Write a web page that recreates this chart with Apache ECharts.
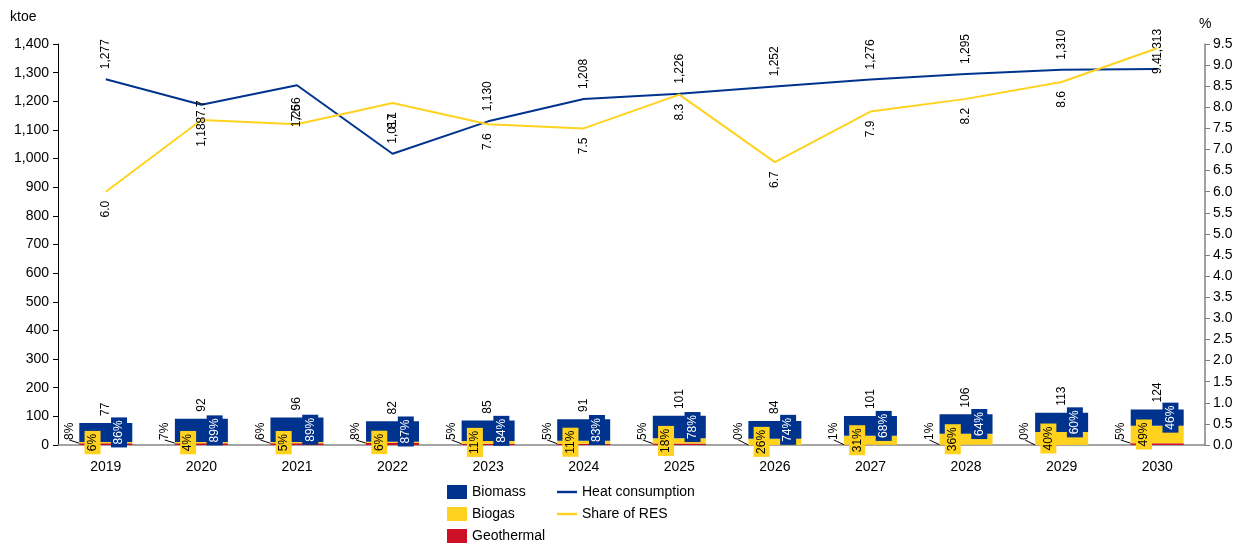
<!DOCTYPE html>
<html>
<head>
<meta charset="utf-8">
<script src="https://cdn.jsdelivr.net/npm/echarts@6/dist/echarts.min.js"></script>
<style>
  html, body { margin: 0; padding: 0; background: #fff; }
  #chart { width: 1244px; height: 545px; }
</style>
</head>
<body>
<div id="chart"></div>
<script>
const categories = ['2019', '2020', '2021', '2022', '2023', '2024', '2025', '2026', '2027', '2028', '2029', '2030']

// ktoe
const geothermal = [6.2, 6.4, 5.8, 6.6, 4.3, 4.6, 5.1, 0, 1.0, 1.1, 0, 6.2]
const biogas = [4.6, 3.7, 4.8, 4.9, 9.4, 10.0, 18.2, 21.8, 31.3, 38.2, 45.2, 60.8]
const biomass = [66.2, 81.9, 85.4, 71.3, 71.4, 75.5, 78.8, 62.2, 68.7, 67.8, 67.8, 57.0]
const totals = [77, 92, 96, 82, 85, 91, 101, 84, 101, 106, 113, 124]

// share labels, %
const geothermalShare = [8, 7, 6, 8, 5, 5, 5, 0, 1, 1, 0, 5]
const biogasShare = [6, 4, 5, 6, 11, 11, 18, 26, 31, 36, 40, 49]
const biomassShare = [86, 89, 89, 87, 84, 83, 78, 74, 68, 64, 60, 46]

const heatConsumption = [1277, 1188, 1256, 1017, 1130, 1208, 1226, 1252, 1276, 1295, 1310, 1313]
const shareRes = [6.0, 7.7, 7.6, 8.1, 7.6, 7.5, 8.3, 6.7, 7.9, 8.2, 8.6, 9.4]

const FONT = '"Liberation Sans", Arial, sans-serif'
const BLUE = '#00338D'
const YELLOW = '#FFD21F'
const RED = '#CE1126'

// points whose labels sit on the other side of the line
const heatFlip = [1, 2]
const resFlip = [1, 2]

const rotLabel = {
  show: true,
  rotate: 90,
  fontFamily: FONT,
  fontSize: 12,
  color: '#000'
}

const labelUp = { position: 'top', align: 'left', verticalAlign: 'middle' }
const labelDown = { position: 'bottom', align: 'right', verticalAlign: 'middle' }

const legendText = { fontFamily: FONT, fontSize: 14, lineHeight: 14, color: '#000' }

const chart = echarts.init(document.getElementById('chart'))

chart.setOption({
  animation: false,
  textStyle: { fontFamily: FONT },
  grid: { left: 58, right: 39, top: 44, bottom: 100 },
  graphic: [
    { type: 'text', left: 10, top: 10, style: { text: 'ktoe', font: '14px ' + FONT, fill: '#000' } },
    { type: 'text', left: 1199, top: 17, style: { text: '%', font: '14px ' + FONT, fill: '#000' } }
  ],
  legend: [
    {
      orient: 'vertical',
      left: 447,
      top: 485,
      padding: 0,
      itemWidth: 20,
      itemHeight: 14,
      itemGap: 8,
      icon: 'rect',
      textStyle: legendText,
      data: ['Biomass', 'Biogas', 'Geothermal']
    },
    {
      orient: 'vertical',
      left: 557,
      top: 485,
      padding: 0,
      itemWidth: 20,
      itemHeight: 14,
      itemGap: 8,
      icon: 'path://M0,0 L20,0 L20,2.4 L0,2.4 Z',
      textStyle: legendText,
      data: ['Heat consumption', 'Share of RES']
    }
  ],
  xAxis: {
    type: 'category',
    data: categories,
    axisLine: { lineStyle: { color: '#868686', width: 1.5 } },
    axisTick: { show: false },
    axisLabel: { color: '#000', fontSize: 14, margin: 15 }
  },
  yAxis: [
    {
      type: 'value',
      min: 0,
      max: 1400,
      interval: 100,
      axisLine: { show: true, lineStyle: { color: '#000' } },
      axisTick: { show: true, length: 5, lineStyle: { color: '#000' } },
      splitLine: { show: false },
      axisLabel: {
        color: '#000',
        fontSize: 14,
        margin: 9,
        formatter: v => v.toLocaleString('en-US')
      }
    },
    {
      type: 'value',
      min: 0,
      max: 9.5,
      interval: 0.5,
      position: 'right',
      axisLine: { show: true, lineStyle: { color: '#808080', width: 1.5 } },
      axisTick: { show: true, length: 5, lineStyle: { color: '#808080' } },
      splitLine: { show: false },
      axisLabel: {
        color: '#000',
        fontSize: 14,
        margin: 8,
        formatter: v => v.toFixed(1)
      }
    }
  ],
  series: [
    {
      name: 'Totals',
      type: 'bar',
      data: totals,
      barWidth: 53,
      barGap: '-100%',
      silent: true,
      z: 1,
      itemStyle: { color: 'rgba(0,0,0,0)' },
      label: Object.assign({}, rotLabel, labelUp, { distance: 7 }),
      legendHoverLink: false
    },
    {
      name: 'Geothermal',
      type: 'bar',
      stack: 'res',
      data: geothermal,
      barWidth: 53,
      itemStyle: { color: RED },
      label: Object.assign({}, rotLabel, {
        position: 'left',
        align: 'left',
        verticalAlign: 'middle',
        formatter: p => geothermalShare[p.dataIndex] + '%'
      }),
      labelLayout: p => ({
        x: p.rect.x - 10,
        y: p.rect.y + p.rect.height - 5,
        align: 'left',
        verticalAlign: 'middle'
      }),
      labelLine: { show: true, lineStyle: { color: '#000', width: 1 } }
    },
    {
      name: 'Biogas',
      type: 'bar',
      stack: 'res',
      data: biogas,
      barWidth: 53,
      itemStyle: { color: YELLOW },
      label: Object.assign({}, rotLabel, {
        position: ['25%', '50%'],
        align: 'center',
        verticalAlign: 'middle',
        backgroundColor: YELLOW,
        padding: [2, 3],
        formatter: p => biogasShare[p.dataIndex] + '%'
      })
    },
    {
      name: 'Biomass',
      type: 'bar',
      stack: 'res',
      data: biomass,
      barWidth: 53,
      itemStyle: { color: BLUE },
      label: Object.assign({}, rotLabel, {
        position: ['75%', '50%'],
        align: 'center',
        verticalAlign: 'middle',
        color: '#fff',
        backgroundColor: BLUE,
        padding: [2, 3],
        formatter: p => biomassShare[p.dataIndex] + '%'
      })
    },
    {
      name: 'Heat consumption',
      type: 'line',
      yAxisIndex: 0,
      data: heatConsumption.map((v, i) => heatFlip.includes(i)
        ? { value: v, label: Object.assign({}, labelDown, { distance: 12 }) }
        : v),
      symbol: 'circle',
      symbolSize: 0.1,
      showSymbol: true,
      lineStyle: { color: BLUE, width: 2 },
      itemStyle: { color: BLUE },
      z: 5,
      label: Object.assign({}, rotLabel, labelUp, {
        distance: 10,
        formatter: p => p.value.toLocaleString('en-US')
      })
    },
    {
      name: 'Share of RES',
      type: 'line',
      yAxisIndex: 1,
      data: shareRes.map((v, i) => resFlip.includes(i)
        ? { value: v, label: Object.assign({}, labelUp, { distance: 3 }) }
        : v),
      symbol: 'circle',
      symbolSize: 0.1,
      showSymbol: true,
      lineStyle: { color: YELLOW, width: 2 },
      itemStyle: { color: YELLOW },
      z: 5,
      label: Object.assign({}, rotLabel, labelDown, {
        distance: 9,
        formatter: p => p.value.toFixed(1)
      })
    }
  ]
})
</script>
</body>
</html>
